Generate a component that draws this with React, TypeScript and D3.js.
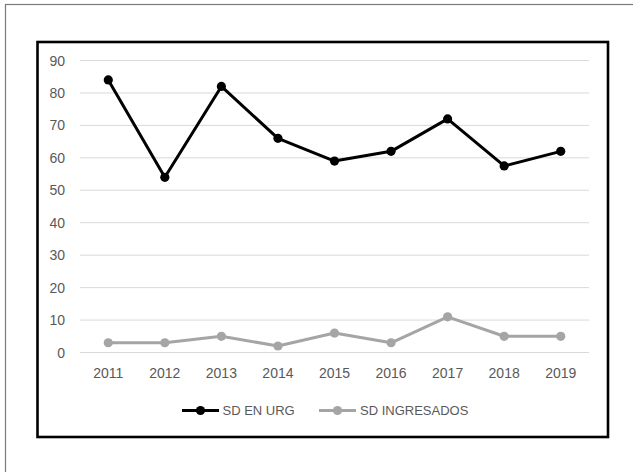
import React from "react";
import * as d3 from "d3";

const years = ["2011", "2012", "2013", "2014", "2015", "2016", "2017", "2018", "2019"];
const sdEnUrg = [84, 54, 82, 66, 59, 62, 72, 57.5, 62];
const sdIngresados = [3, 3, 5, 2, 6, 3, 11, 5, 5];
const yTicks = [0, 10, 20, 30, 40, 50, 60, 70, 80, 90];
const seriesNames = ["SD EN URG", "SD INGRESADOS"];

const W = 633;
const H = 472;
const FONT = "'Liberation Sans', Arial, sans-serif";
const TEXT = "#595959";

export default function App() {
  const x = d3.scalePoint<string>().domain(years).range([80, 589]).padding(0.5);
  const y = d3.scaleLinear().domain([0, 90]).range([352.5, 60.5]);

  const line = d3
    .line<number>()
    .x((_, i) => x(years[i]) as number)
    .y((d) => y(d));

  const series = [
    { name: seriesNames[0], values: sdEnUrg, color: "#000000" },
    { name: seriesNames[1], values: sdIngresados, color: "#a5a5a5" },
  ];

  return (
    <svg
      width={W}
      height={H}
      style={{ position: "absolute", left: 0, top: 0, background: "#fff" }}
    >
      <rect x={0} y={0} width={W} height={H} fill="#fff" />
      {/* outer frame */}
      <rect x={5.5} y={4.5} width={W + 20} height={H + 20} fill="none" stroke="#7a7a7a" strokeWidth={1.2} />
      {/* chart frame */}
      <rect x={37.5} y={42} width={570.5} height={395} fill="none" stroke="#000" strokeWidth={2.6} />

      {/* gridlines */}
      {yTicks.map((t) => (
        <line key={t} x1={80} x2={589} y1={y(t)} y2={y(t)} stroke="#d9d9d9" strokeWidth={1} />
      ))}

      {/* y tick labels */}
      {yTicks.map((t) => (
        <text
          key={t}
          x={65}
          y={y(t)}
          dy="0.36em"
          textAnchor="end"
          fontFamily={FONT}
          fontSize={14}
          fill={TEXT}
        >
          {t}
        </text>
      ))}

      {/* x tick labels */}
      {years.map((yr) => (
        <text
          key={yr}
          x={x(yr) as number}
          y={378}
          textAnchor="middle"
          fontFamily={FONT}
          fontSize={14}
          fill={TEXT}
        >
          {yr}
        </text>
      ))}

      {/* series */}
      {series
        .slice()
        .reverse()
        .map((s) => (
          <g key={s.name}>
            <path d={line(s.values) || ""} fill="none" stroke={s.color} strokeWidth={3} strokeLinejoin="round" />
            {s.values.map((v, i) => (
              <circle key={i} cx={x(years[i]) as number} cy={y(v)} r={4.6} fill={s.color} />
            ))}
          </g>
        ))}

      {/* legend */}
      {series.map((s, i) => {
        const lx = i === 0 ? 182 : 319;
        const tx = i === 0 ? 222.5 : 360;
        const ly = 410.5;
        return (
          <g key={s.name}>
            <line x1={lx} x2={lx + 37} y1={ly} y2={ly} stroke={s.color} strokeWidth={3} />
            <circle cx={lx + 18.5} cy={ly} r={4.6} fill={s.color} />
            <text
              x={tx}
              y={ly}
              dy="0.36em"
              fontFamily={FONT}
              fontSize={13}
              fill={TEXT}
            >
              {s.name}
            </text>
          </g>
        );
      })}
    </svg>
  );
}
